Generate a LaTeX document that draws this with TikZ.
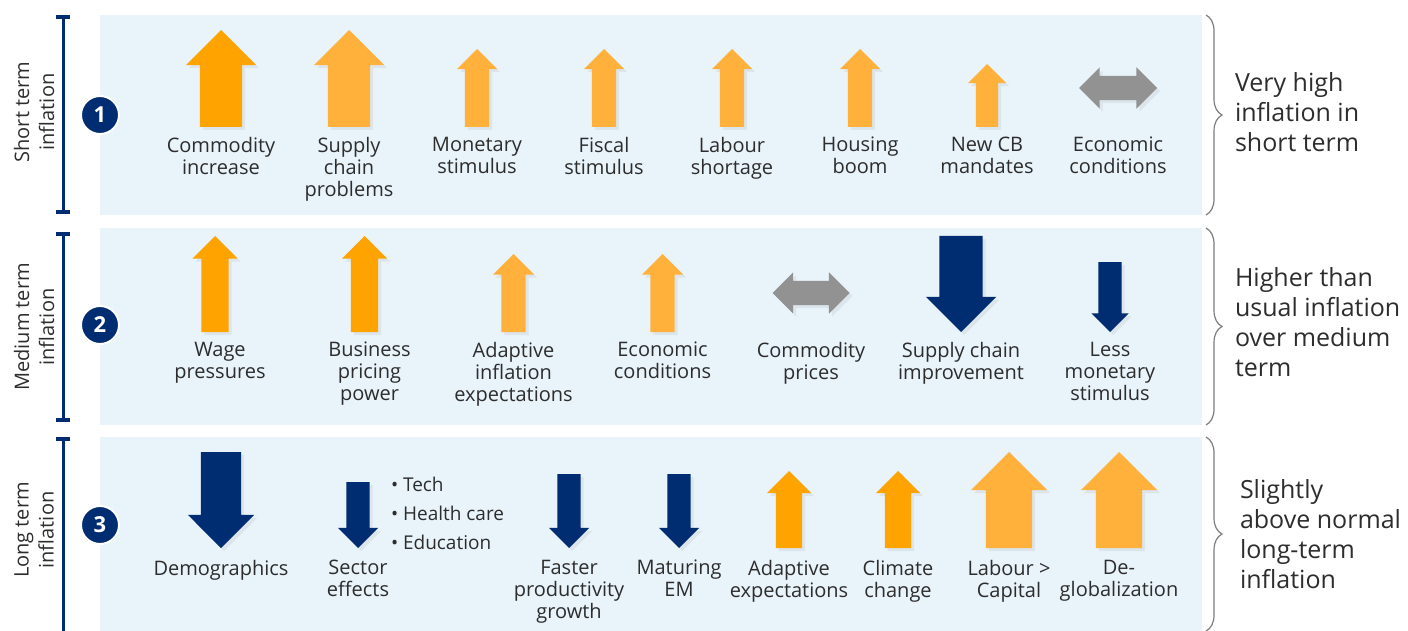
\documentclass[tikz,border=0pt]{standalone}
\usepackage{fontspec}
\setmainfont{Open Sans}
\usepackage{tikz}
\usetikzlibrary{shapes.arrows,positioning,decorations.pathreplacing,shadows,arrows.meta}
\definecolor{navy}{RGB}{0,45,114}
\definecolor{orgA}{RGB}{255,163,0}
\definecolor{orgB}{RGB}{255,177,60}
\definecolor{grayA}{RGB}{146,146,146}
\definecolor{panelbg}{RGB}{232,243,250}
\definecolor{txt}{RGB}{45,45,45}
\definecolor{bracegray}{RGB}{125,125,125}
\tikzset{
  shd/.style={drop shadow={opacity=.12,shadow xshift=3pt,shadow yshift=-3pt}},
  ar/.style={single arrow,single arrow tip angle=90,inner xsep=0pt,shd},
  up/.style={ar,rotate=90,anchor=tail},
  dn/.style={ar,rotate=-90,anchor=tip},
  sz/.style n args={3}{minimum height=#1,inner ysep=#2,single arrow head extend=#3},
  dbl/.style={double arrow,double arrow tip angle=90,inner xsep=0pt,inner ysep=12pt,
    double arrow head extend=8.5pt,fill=grayA,shd},
  lbl/.style={align=center,font=\fontsize{20}{22}\selectfont,text=txt},
  rtxt/.style={anchor=north west,align=left,font=\fontsize{25}{30}\selectfont,text=txt},
  side/.style={align=center,rotate=90,font=\fontsize{20}{25}\selectfont,text=txt},
  num/.style={circle,fill=navy,draw=white,line width=2pt,minimum size=38pt,text=white,
    font=\fontsize{22}{22}\selectfont\bfseries},
  panel/.style={fill=panelbg,minimum width=1102pt},
  brc/.style={decorate,decoration={brace,amplitude=16pt},draw=bracegray,line width=1.2pt},
  bar/.style={draw=navy,line width=3pt,arrows={Bar[width=14pt,line width=4pt]-Bar[width=14pt,line width=4pt]}}
}
\begin{document}
\begin{tikzpicture}
[x=1pt,y=-1pt,every node/.style={inner sep=0pt,outer sep=0pt}]
\useasboundingbox (0,0) rectangle (1408,631);
\node[panel,minimum height=200pt] (p1) at (651,115) {};
\node[panel,minimum height=197pt] (p2) at (651,326.5) {};
\node[panel,minimum height=194pt] (p3) at (651,534) {};

\draw[bar] (63,15) -- (63,214);
\draw[bar] (63,232) -- (63,422);
\draw[bar] (63,437) -- (63,640);
\node[side] (h1) at (34,112) {Short term\\inflation};
\node[side] (h2) at (34,327) {Medium term\\inflation};
\node[side] (h3) at (34,530) {Long term\\inflation};
\node[num] (n1) at (100,115) {1};
\node[num] (n2) at (100,325) {2};
\node[num] (n3) at (100,525) {3};

\node[up,sz={97pt}{21pt}{14pt},fill=orgA] (s1) at (221,127) {};
\node[lbl,below=10pt of s1.tail] (ls1) {Commodity\\increase};
\node[up,sz={97pt}{21pt}{14pt},fill=orgB] (s2) at (349,127) {};
\node[lbl,below=10pt of s2.tail] (ls2) {Supply\\chain\\problems};
\foreach \n/\x/\lab in {3/477/{Monetary\\stimulus},4/604/{Fiscal\\stimulus},
  5/732/{Labour\\shortage},6/860/{Housing\\boom}}
{
  \node[up,sz={78pt}{12pt}{8pt},fill=orgB] (s\n) at (\x,127) {};
  \node[lbl,below=10pt of s\n.tail] (ls\n) {\lab};
}
\node[up,sz={63pt}{11pt}{8pt},fill=orgB] (s7) at (987,127) {};
\node[lbl,below=10pt of s7.tail] (ls7) {New CB\\mandates};
\node[dbl,minimum height=78pt] (s8) at (1118,88) {};
\node[lbl,anchor=north] (ls8) at (s8 |- ls1.north) {Economic\\conditions};

\node[up,sz={96pt}{13.5pt}{9pt},fill=orgA] (m1) at (215,332) {};
\node[lbl,below=10pt of m1.tail,xshift=5pt] (lm1) {Wage\\pressures};
\node[up,sz={96pt}{13.5pt}{9pt},fill=orgA] (m2) at (364.5,332) {};
\node[lbl,below=10pt of m2.tail,xshift=5pt] (lm2) {Business\\pricing\\power};
\node[up,sz={78pt}{12pt}{8.5pt},fill=orgB] (m3) at (513.5,332) {};
\node[lbl,below=10pt of m3.tail] (lm3) {Adaptive\\inflation\\expectations};
\node[up,sz={78pt}{12pt}{8.5pt},fill=orgB] (m4) at (662.5,332) {};
\node[lbl,below=10pt of m4.tail] (lm4) {Economic\\conditions};
\node[dbl,minimum height=77pt] (m5) at (811,293) {};
\node[lbl,anchor=north] (lm5) at (m5 |- lm1.north) {Commodity\\prices};
\node[dn,sz={96pt}{21.5pt}{13.5pt},fill=navy] (m6) at (961,332) {};
\node[lbl,below=10pt of m6.tip] (lm6) {Supply chain\\improvement};
\node[dn,sz={70pt}{11.5pt}{7pt},fill=navy] (m7) at (1110,332) {};
\node[lbl,below=10pt of m7.tip] (lm7) {Less\\monetary\\stimulus};

\node[dn,sz={96pt}{20pt}{13pt},fill=navy] (g1) at (221,548) {};
\node[lbl,below=12pt of g1.tip] (lg1) {Demographics};
\node[dn,sz={66pt}{11.5pt}{8.5pt},fill=navy] (g2) at (358,548) {};
\node[lbl,below=12pt of g2.tip] (lg2) {Sector\\effects};
\node[anchor=north west,align=left,font=\fontsize{19}{29}\selectfont,text=txt] (gb) at (391,477)
  {• Tech\\• Health care\\• Education};
\node[dn,sz={74pt}{11.5pt}{8.5pt},fill=navy] (g3) at (569,548) {};
\node[lbl,below=12pt of g3.tip] (lg3) {Faster\\productivity\\growth};
\node[dn,sz={74pt}{11.5pt}{8.5pt},fill=navy] (g4) at (679,548) {};
\node[lbl,below=12pt of g4.tip] (lg4) {Maturing\\EM};
\node[up,sz={77pt}{13pt}{9pt},fill=orgA] (g5) at (789,548) {};
\node[lbl,below=12pt of g5.tail] (lg5) {Adaptive\\expectations};
\node[up,sz={77pt}{13pt}{9pt},fill=orgA] (g6) at (898,548) {};
\node[lbl,below=12pt of g6.tail] (lg6) {Climate\\change};
\node[up,sz={96pt}{23pt}{15pt},fill=orgB] (g7) at (1009,548) {};
\node[lbl,below=12pt of g7.tail] (lg7) {Labour >\\Capital};
\node[up,sz={96pt}{23pt}{15pt},fill=orgB] (g8) at (1119,548) {};
\node[lbl,below=12pt of g8.tail] (lg8) {De-\\globalization};

\draw[brc] ([xshift=4pt]p1.north east) -- ([xshift=4pt]p1.south east);
\draw[brc] ([xshift=4pt]p2.north east) -- ([xshift=4pt]p2.south east);
\draw[brc] ([xshift=4pt]p3.north east) -- ([xshift=4pt]p3.south east);
\node[rtxt] (t1) at (1235,73) {Very high\\inflation in\\short term};
\node[rtxt] (t2) at (1235,268) {Higher than\\usual inflation\\over medium\\term};
\node[rtxt] (t3) at (1240,480) {Slightly\\above normal\\long-term\\inflation};
\end{tikzpicture}
\end{document}
